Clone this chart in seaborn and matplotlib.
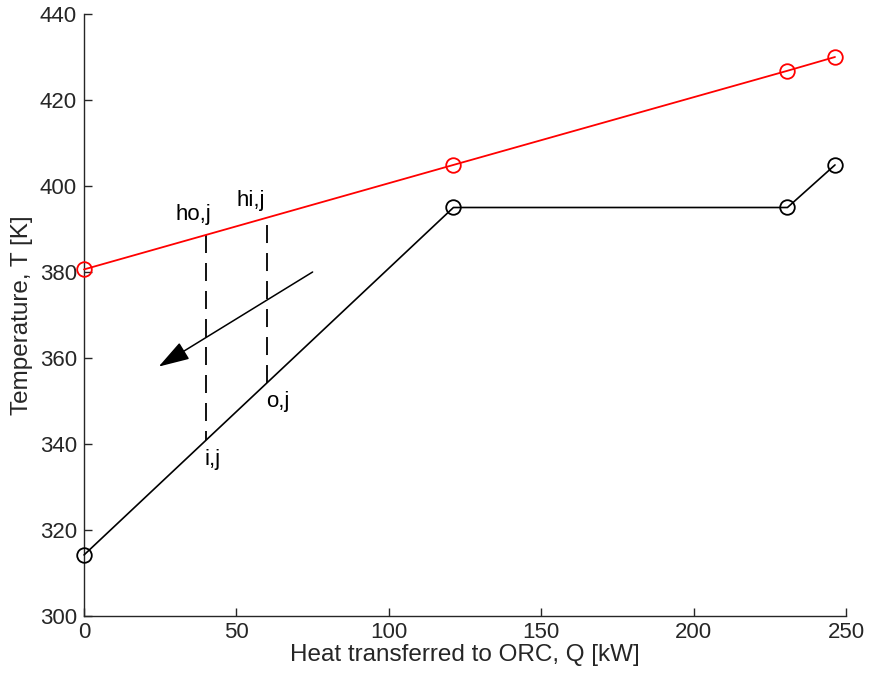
import matplotlib
matplotlib.use("Agg")
import matplotlib.pyplot as plt
import seaborn as sns
import pandas as pd

# Hot stream (heat source) temperature profile
hot_q = [0.0, 121.2, 230.8, 246.4]
hot_t = [380.6, 404.9, 426.8, 430.0]

# ORC working-fluid temperature profile
orc_q = [0.0, 121.2, 230.8, 246.4]
orc_t = [314.2, 395.0, 395.0, 404.9]

# Segment j bounds and its end temperatures
seg_q = [40.0, 60.0]
seg_t_hot = [388.6, 392.6]
seg_t_cold = [340.9, 354.2]
seg_dash_offset = [0.0, 15.1]

# Direction arrow (tail -> head)
arrow_q = [75.0, 24.5]
arrow_t = [380.0, 358.0]

# Point labels
label_text = ["ho,j", "hi,j", "i,j", "o,j"]
label_q = [35.8, 54.8, 42.3, 63.6]
label_t = [393.4, 396.6, 336.3, 349.8]

x_ticks = [0, 50, 100, 150, 200, 250]
y_ticks = [300, 320, 340, 360, 380, 400, 420, 440]

sns.set_theme(style="white")
plt.rcParams["font.family"] = ["Liberation Sans", "DejaVu Sans"]
plt.rcParams["lines.scale_dashes"] = False

fig = plt.figure(figsize=(8.69, 6.73), dpi=100)
ax = fig.add_axes([0.0967, 0.0847, 0.9735 - 0.0967, 0.9792 - 0.0847])

hot = pd.DataFrame({"Q": hot_q, "T": hot_t})
orc = pd.DataFrame({"Q": orc_q, "T": orc_t})

sns.lineplot(data=hot, x="Q", y="T", ax=ax, color="red", lw=1.3, sort=False,
             marker="o", markersize=10.5, markerfacecolor="none",
             markeredgecolor="red", markeredgewidth=1.3, clip_on=False, zorder=4)
sns.lineplot(data=orc, x="Q", y="T", ax=ax, color="black", lw=1.2, sort=False,
             marker="o", markersize=10.5, markerfacecolor="none",
             markeredgecolor="black", markeredgewidth=1.3, clip_on=False, zorder=4)

# Vertical dashed guides across segment j (hot side down to cold side)
for q, th, tc, off in zip(seg_q, seg_t_hot, seg_t_cold, seg_dash_offset):
    ax.plot([q, q], [th, tc], color="black", lw=1.3, linestyle=(off, (12.96, 7.2)))

ax.annotate("", xy=(arrow_q[1], arrow_t[1]), xytext=(arrow_q[0], arrow_t[0]),
            arrowprops=dict(arrowstyle="-|>,head_length=1.6,head_width=0.5",
                            color="black", lw=1.1, shrinkA=0, shrinkB=0))

for s, q, t in zip(label_text, label_q, label_t):
    ax.text(q, t, s, fontsize=16, color="black", ha="center", va="center")

ax.set_xlim(0, 250)
ax.set_ylim(300, 440)
ax.set_xticks(x_ticks)
ax.set_yticks(y_ticks)
ax.set_xlabel("Heat transferred to ORC, Q [kW]", fontsize=17.5, color="#262626", labelpad=1)
ax.set_ylabel("Temperature, T [K]", fontsize=17.5, color="#262626", labelpad=5)

for side in ["top", "right"]:
    ax.spines[side].set_visible(False)
for side in ["left", "bottom"]:
    ax.spines[side].set_color("#262626")
    ax.spines[side].set_linewidth(1.0)
ax.tick_params(axis="both", direction="in", length=6, width=1.0, colors="#262626",
               labelsize=16, left=True, bottom=True)
ax.tick_params(axis="y", pad=5)
ax.tick_params(axis="x", pad=4)
ax.grid(False)

fig.savefig("out.png", dpi=100)
